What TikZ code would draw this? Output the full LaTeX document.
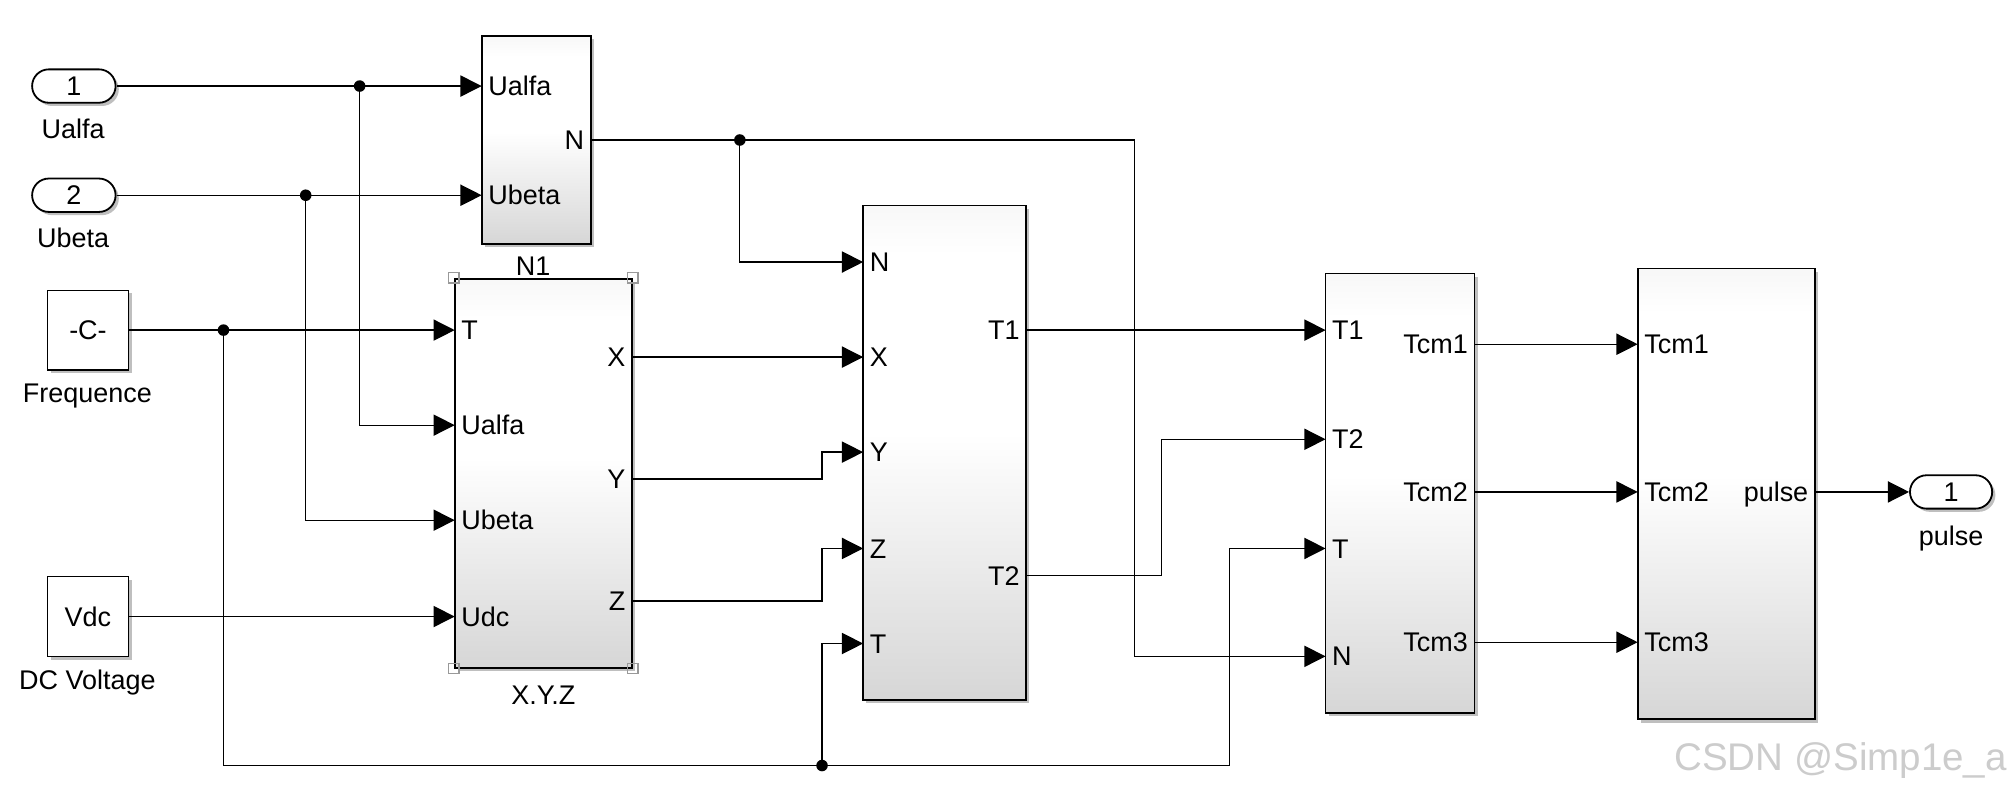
\documentclass[tikz,border=0pt]{standalone}
\usepackage{fontspec}
\setmainfont{Liberation Sans}
\usetikzlibrary{arrows.meta,shadows}
% light top, white middle, grey bottom, as Simulink subsystem blocks
\pgfdeclareverticalshading{blkshade}{100bp}{color(0bp)=(black!16); color(25bp)=(black!16); color(52bp)=(white); color(70bp)=(white); color(75bp)=(black!3); color(100bp)=(black!3)}
\begin{document}
\begin{tikzpicture}[x=1pt,y=-1pt,
  every node/.style={font=\fontsize{21}{25}\selectfont},
  shd/.style={drop shadow={shadow xshift=2.5pt,shadow yshift=-2.5pt,fill=black!50,opacity=0.5}},
  blk/.style={draw,line width=1.3pt,shade,shading=blkshade,shd,inner sep=0pt},
  port/.style={draw,line width=1.4pt,rounded corners=13pt,minimum width=65pt,minimum height=26pt,fill=white,shd,inner sep=0pt},
  cst/.style={draw,line width=1.2pt,fill=white,minimum width=63pt,minimum height=62pt,shd,inner sep=0pt},
  lab/.style={inner sep=0pt,text height=15pt,text depth=0pt},
  inl/.style={anchor=west,inner xsep=5pt,inner ysep=0pt,text height=15pt,text depth=0pt},
  outl/.style={inl,anchor=east},
  wire/.style={line width=1pt},
  sig/.style={wire,-{Triangle[length=16.5pt,width=16.5pt]}},
  dot/.style={circle,fill=black,inner sep=0pt,minimum size=9pt},
  handle/.style={draw=black!40,line width=0.9pt,minimum size=8pt,inner sep=0pt},
  wm/.style={text=black!20,font=\fontsize{30}{33}\selectfont}]
\useasboundingbox (0,0) rectangle (1568,618);

% sources
\node[port] (in1) at (57.5,67) {1};
\node[lab] (in1c) at (57,100) {Ualfa};
\node[port] (in2) at (57.5,152) {2};
\node[lab] (in2c) at (57,185) {Ubeta};
\node[cst] (cst) at (68.5,257) {-C-};
\node[lab] (cstc) at (68,306) {Frequence};
\node[cst] (vdc) at (68.5,480) {Vdc};
\node[lab] (vdcc) at (68,529) {DC Voltage};

% N1 sector block
\node[blk,minimum width=85pt,minimum height=162pt] (n1) at (417.5,109) {};
\node[lab] (n1c) at (415,207) {N1};
\node[inl] (n1ua) at (375,67) {Ualfa};
\node[inl] (n1ub) at (375,152) {Ubeta};
\node[outl] (n1N) at (460,109) {N};

% X.Y.Z block (selected)
\node[blk,minimum width=138pt,minimum height=303pt] (xyz) at (423,368.5) {};
\node[lab] (xyzc) at (423,541) {X.Y.Z};
\node[inl] (xT) at (354,257) {T};
\node[inl] (xua) at (354,331) {Ualfa};
\node[inl] (xub) at (354,405) {Ubeta};
\node[inl] (xudc) at (354,480) {Udc};
\node[outl] (xX) at (492,278) {X};
\node[outl] (xY) at (492,373) {Y};
\node[outl] (xZ) at (492,468) {Z};
\foreach \a in {north west,north east,south west,south east}
  \node[handle] at (xyz.\a) {};

% T1/T2 block
\node[blk,minimum width=127pt,minimum height=385pt] (b3) at (735.5,352.5) {};
\node[inl] (b3N) at (672,204) {N};
\node[inl] (b3X) at (672,278) {X};
\node[inl] (b3Y) at (672,352) {Y};
\node[inl] (b3Z) at (672,427) {Z};
\node[inl] (b3T) at (672,501) {T};
\node[outl] (b3T1) at (799,257) {T1};
\node[outl] (b3T2) at (799,448) {T2};

% Tcm block
\node[blk,minimum width=116pt,minimum height=342pt] (b4) at (1090,384) {};
\node[inl] (b4T1) at (1032,257) {T1};
\node[inl] (b4T2) at (1032,342) {T2};
\node[inl] (b4T) at (1032,427) {T};
\node[inl] (b4N) at (1032,511) {N};
\node[outl] (b4c1) at (1148,268) {Tcm1};
\node[outl] (b4c2) at (1148,383) {Tcm2};
\node[outl] (b4c3) at (1148,500) {Tcm3};

% pulse block
\node[blk,minimum width=138pt,minimum height=351pt] (b5) at (1344,384.5) {};
\node[inl] (b5c1) at (1275,268) {Tcm1};
\node[inl] (b5c2) at (1275,383) {Tcm2};
\node[inl] (b5c3) at (1275,500) {Tcm3};
\node[outl] (b5p) at (1413,383) {pulse};

% output port
\node[port,minimum width=64pt] (out1) at (1519,383) {1};
\node[lab] (out1c) at (1519,417) {pulse};

% junctions and bends
\node[dot] (j1) at (280,67) {};
\node[dot] (j2) at (238,152) {};
\node[dot] (j3) at (174,257) {};
\node[dot] (j4) at (640,596) {};
\node[dot] (j5) at (576,109) {};
\coordinate (k1) at (957,596);
\coordinate (k2) at (883,109);
\coordinate (k3) at (640,373);
\coordinate (k4) at (640,468);
\coordinate (k5) at (904,448);

% signal lines
\draw[sig] (in1.east) -- (n1ua.west);
\draw[sig] (j1.center) |- (xua.west);
\draw[sig] (in2.east) -- (n1ub.west);
\draw[sig] (j2.center) |- (xub.west);
\draw[sig] (cst.east) -- (xT.west);
\draw[wire] (j3.center) |- (j4.center);
\draw[sig] (j4.center) |- (b3T.west);
\draw[sig] (j4.center) -- (k1) |- (b4T.west);
\draw[sig] (vdc.east) -- (xudc.west);
\draw[wire] (n1N.east) -- (j5.center);
\draw[sig] (j5.center) |- (b3N.west);
\draw[sig] (j5.center) -- (k2) |- (b4N.west);
\draw[sig] (xX.east) -- (b3X.west);
\draw[sig] (xY.east) -- (k3) |- (b3Y.west);
\draw[sig] (xZ.east) -- (k4) |- (b3Z.west);
\draw[sig] (b3T1.east) -- (b4T1.west);
\draw[sig] (b3T2.east) -- (k5) |- (b4T2.west);
\draw[sig] (b4c1.east) -- (b5c1.west);
\draw[sig] (b4c2.east) -- (b5c2.west);
\draw[sig] (b4c3.east) -- (b5c3.west);
\draw[sig] (b5p.east) -- (out1.west);

\node[wm,anchor=east] (wmk) at (1566,592) {CSDN @Simp1e\_a};
\end{tikzpicture}
\end{document}
